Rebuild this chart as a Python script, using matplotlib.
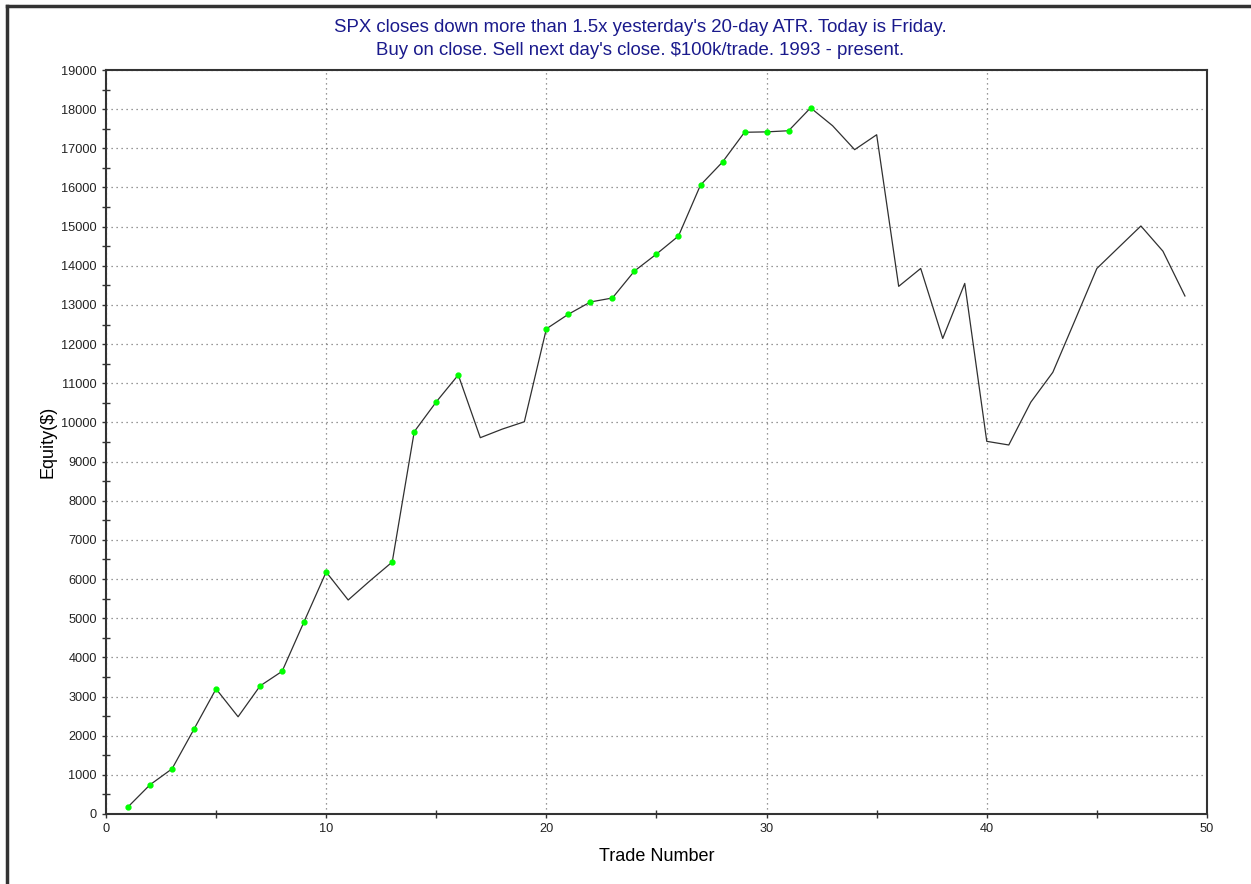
import numpy as np
import matplotlib.pyplot as plt
from matplotlib.lines import Line2D
from matplotlib.ticker import MultipleLocator

plt.rcParams['font.family'] = ['Liberation Sans', 'DejaVu Sans']

trade = list(range(1, 50))
equity = [180, 746, 1153, 2169, 3195, 2483, 3271, 3644, 4915, 6180,
          5465, 5960, 6435, 9763, 10525, 11212, 9610, 9830, 10017, 12390,
          12763, 13076, 13178, 13866, 14300, 14760, 16062, 16650, 17410, 17420,
          17449, 18034, 17576, 16966, 17347, 13475, 13932, 12144, 13550, 9517,
          9424, 10517, 11280, 12600, 13932, 14475, 15017, 14373, 13229]

title = ("SPX closes down more than 1.5x yesterday's 20-day ATR. Today is Friday.\n"
         "Buy on close. Sell next day's close. $100k/trade. 1993 - present.")

# new equity highs get a green dot
eq = np.array(equity)
is_high = eq >= np.maximum.accumulate(eq)
hx = np.array(trade)[is_high]
hy = eq[is_high]

fig = plt.figure(figsize=(12.51, 8.84), dpi=100)
ax = fig.add_axes([0.0847, 0.0792, 0.8801, 0.8416])

ax.plot(trade, equity, color='#303030', linewidth=0.9)
ax.plot(hx, hy, linestyle='none', marker='o', markersize=3.5, color='#00ff00')

ax.set_xlim(0, 50)
ax.set_ylim(0, 19000)
ax.xaxis.set_major_locator(MultipleLocator(10))
ax.xaxis.set_minor_locator(MultipleLocator(5))
ax.yaxis.set_major_locator(MultipleLocator(1000))
ax.yaxis.set_minor_locator(MultipleLocator(500))
ax.tick_params(which='major', direction='out', length=3, width=1, labelsize=9.2, colors='#333333')
ax.tick_params(which='minor', direction='inout', length=6, width=1, colors='#333333')
for lab in ax.get_xticklabels() + ax.get_yticklabels():
    lab.set_color('#222222')

ax.grid(True, which='major', linestyle=(0, (1, 3)), color='#777777', linewidth=0.9)
for s in ax.spines.values():
    s.set_color('#333333')
    s.set_linewidth(1.5)

ax.set_xlabel('Trade Number', fontsize=13, labelpad=9)
ax.set_ylabel('Equity($)', fontsize=13)
ax.yaxis.set_label_coords(-0.045, 0.5)
fig.text(0.512, 0.978, title, ha='center', va='top', fontsize=13.4,
         color='#1a1a8c', linespacing=1.45)

# outer frame (top and left edges only)
fig.add_artist(Line2D([0.0055, 1.0], [0.9935, 0.9935], color='#333333', linewidth=2.5,
                      transform=fig.transFigure))
fig.add_artist(Line2D([0.0055, 0.0055], [0.0, 0.9935], color='#333333', linewidth=2.5,
                      transform=fig.transFigure))

fig.savefig('out.png', dpi=100)
